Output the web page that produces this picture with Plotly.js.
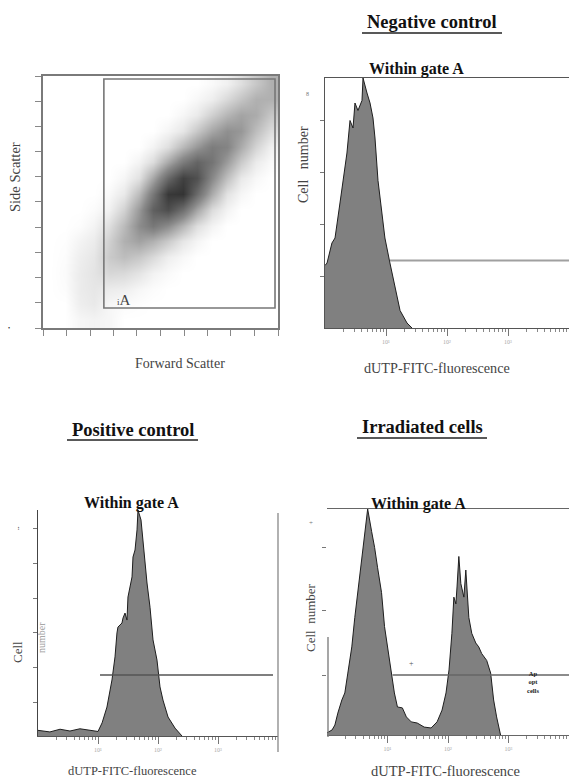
<!DOCTYPE html>
<html>
<head>
<meta charset="utf-8">
<script src="https://cdn.plot.ly/plotly-3.0.1.min.js"></script>
<style>
html,body{margin:0;padding:0;background:#fff;}
#chart{width:569px;height:780px;}
</style>
</head>
<body>
<div id="chart"></div>
<script>
// ---------- Panel 1: Forward vs Side scatter (density read from the dot cloud) ----------
const scatterBinCentersX = [32,96,160,224,288,352,416,480,544,608,672,736,800,864,928,992];
const scatterBinCentersY = [32,96,160,224,288,352,416,480,544,608,672,736,800,864,928,992];
// rows = Side Scatter bins (bottom to top), columns = Forward Scatter bins
const scatterDensity = [
  [0,0,0.3,0.4,0.3,0,0,0,0,0,0,0,0,0,0,0],
  [0,0,0.6,0.8,0.3,0.15,0.07,0,0,0,0,0,0,0,0,0],
  [0,0.1,0.7,0.9,0.7,0.6,0.3,0.12,0,0,0,0,0,0,0,0],
  [0,0.15,0.7,1.0,1.5,1.4,1.0,0.45,0.18,0,0,0,0,0,0,0],
  [0,0.1,0.6,0.9,2.0,2.5,2.1,1.4,0.6,0.25,0,0,0,0,0,0],
  [0,0.05,0.4,0.7,1.75,3.0,3.6,3.0,2.0,0.9,0.35,0,0,0,0,0],
  [0,0,0.1,0.4,1.2,2.6,4.4,5.4,4.4,2.8,1.2,0.4,0,0,0,0],
  [0,0,0,0.15,0.5,1.7,3.9,6.6,7.5,5.8,3.4,1.3,0.4,0,0,0],
  [0,0,0,0,0.2,0.8,2.6,5.4,8.6,8.8,6.0,3.2,1.05,0.3,0,0],
  [0,0,0,0,0,0.3,1.1,3.4,6.2,8.2,7.4,4.6,2.4,0.8,0.25,0],
  [0,0,0,0,0,0,0.4,1.3,3.3,5.2,6.4,5.6,3.8,2.0,0.7,0.2],
  [0,0,0,0,0,0,0,0.4,1.2,2.7,4.0,5.2,4.8,3.2,1.6,0.5],
  [0,0,0,0,0,0,0,0,0.35,0.9,2.1,3.4,4.3,4.0,2.5,1.3],
  [0,0,0,0,0,0,0,0,0,0.3,0.75,1.8,2.8,3.5,3.2,2.1],
  [0,0,0,0,0,0,0,0,0,0,0.25,0.6,1.4,2.2,3.0,3.0],
  [0,0,0,0,0,0,0,0,0,0,0,0.2,0.5,1.2,2.1,3.0]
];
const scatterTicks = [0,102,205,307,409,512,614,716,818,921,1023];
const gateA = [265, 1010, 81, 1011]; // x0, x1, y0, y1

// ---------- Panel 2: Negative control ----------
const negFluor = [1.0,1.08,1.30,1.46,1.76,1.97,2.29,2.57,2.88,3.10,3.47,4.04,4.20,4.88,5.47,6.12,6.6,7.39,8.6,9.6,11.6,14.1,17.0,22.1,26.7];
const negCount = [25,26,34,36,50,58,70,83,80,90,87,91,100,94,90,84,76,59,47,36,26,16,7,2,0];
const negMarkerX = [11.6, 10000];
const negMarkerY = [27, 27];

// ---------- Panel 3: Positive control ----------
const posFluor = [1.0,1.58,2.33,3.41,5.0,7.4,10,11.7,14.1,17.1,19.2,20.7,21.5,25.1,26.1,28.2,30.4,31.6,36.9,38.3,41.4,44.7,46.4,52.1,56.2,65.6,73.6,82.6,96.2,108,121,147,192,251];
const posCount = [2.5,1.8,3,2.2,3.2,2.5,2,5.8,12.8,24.8,35,45.6,48.2,50,52.2,54.4,51.3,61.5,70.4,79.2,82.3,91.2,100,95.6,85.4,67.7,57,42.5,33.6,21.7,15.9,8.4,3.5,0];
const posMarkerX = [10.8, 8260];
const posMarkerY = [27, 27];

// ---------- Panel 4: Irradiated cells ----------
const irrFluor = [1.0,1.21,1.35,1.51,1.76,1.97,2.21,2.57,2.88,3.22,3.61,3.89,4.2,4.7,5.47,6.12,6.86,7.97,8.93,10,11.6,13.0,14.6,17.6,20.5,24.7,31,40.4,52.6,66,79.7,92.7,104,116,125,135,141,151,163,183,197,221,247,288,322,361,436,507,568,636,739];
const irrCount = [1,2.2,4.4,9.7,15.5,18.6,27.4,39,52,63,74,82,89,100,90,83,74,63,48,39,27,18.6,12.4,12,8,5.8,5.3,3.5,3.1,5.8,11,18.6,28.8,45,61,58,65.5,79,67,61,73,52,45,40.7,39,36,33,27.4,15.5,8,0];
const irrMarkerX = [12.1, 10000];
const irrMarkerY = [26.5, 26.5];

const decadeTicks = [10, 100, 1000];
const decadeLabels = ['10¹', '10²', '10³'];
const minorLogTicks = [2,3,4,5,6,7,8,9,20,30,40,50,60,70,80,90,200,300,400,500,600,700,800,900,2000,3000,4000,5000,6000,7000,8000,9000];

// ---------- helpers (pixel -> paper) ----------
const W = 569, H = 780;
const PX = x => x / W;
const PY = y => 1 - y / H;
const SERIF = 'Liberation Serif, Times New Roman, serif';
const SP = '\u00A0';

const histFill = '#808080';
const histLine = '#1e1e1e';

const traces = [
  {type:'heatmap', x:scatterBinCentersX, y:scatterBinCentersY, z:scatterDensity,
   xaxis:'x', yaxis:'y', zmin:0, zmax:9, zsmooth:'best', showscale:false, hoverinfo:'skip',
   colorscale:[[0,'#ffffff'],[0.05,'#f2f2f2'],[0.2,'#cfcfcf'],[0.5,'#8a8a8a'],[1,'#303030']]},
  {type:'scatter', mode:'lines', x:negFluor, y:negCount, xaxis:'x2', yaxis:'y2',
   fill:'tozeroy', fillcolor:histFill, line:{color:histLine, width:1}, hoverinfo:'skip'},
  {type:'scatter', mode:'lines', x:negMarkerX, y:negMarkerY, xaxis:'x2', yaxis:'y2',
   line:{color:'#a0a0a0', width:2}, hoverinfo:'skip'},
  {type:'scatter', mode:'lines', x:posFluor, y:posCount, xaxis:'x3', yaxis:'y3',
   fill:'tozeroy', fillcolor:histFill, line:{color:histLine, width:1}, hoverinfo:'skip'},
  {type:'scatter', mode:'lines', x:posMarkerX, y:posMarkerY, xaxis:'x3', yaxis:'y3',
   line:{color:'#555555', width:1.5}, hoverinfo:'skip'},
  {type:'scatter', mode:'lines', x:irrFluor, y:irrCount, xaxis:'x4', yaxis:'y4',
   fill:'tozeroy', fillcolor:histFill, line:{color:histLine, width:1}, hoverinfo:'skip'},
  {type:'scatter', mode:'lines', x:irrMarkerX, y:irrMarkerY, xaxis:'x4', yaxis:'y4',
   line:{color:'#666666', width:1.5}, hoverinfo:'skip'}
];

function logX(dom, mirror){
  return {type:'log', domain:dom, range:[0,4], showgrid:false, zeroline:false,
    showline:true, linecolor:'#555', linewidth:1.3, mirror:mirror,
    ticks:'outside', ticklen:7, tickcolor:'#777', tickwidth:1,
    tickvals:decadeTicks, ticktext:decadeLabels,
    tickfont:{family:SERIF, size:6, color:'#aaa'},
    minor:{tickvals:minorLogTicks, ticks:'outside', ticklen:3, tickcolor:'#888'}};
}

const layout = {
  width:W, height:H, margin:{l:0,r:0,t:0,b:0}, showlegend:false,
  paper_bgcolor:'#fff', plot_bgcolor:'rgba(0,0,0,0)',
  xaxis:{domain:[PX(43),PX(278)], range:[0,1023], anchor:'y', showgrid:false, zeroline:false,
    showline:true, linecolor:'#7a7a7a', linewidth:2, mirror:true,
    ticks:'outside', ticklen:6, tickcolor:'#888', tickvals:scatterTicks, showticklabels:false},
  yaxis:{domain:[PY(328),PY(76)], range:[0,1023], anchor:'x', showgrid:false, zeroline:false,
    showline:true, linecolor:'#7a7a7a', linewidth:2, mirror:true,
    ticks:'outside', ticklen:6, tickcolor:'#888', tickvals:scatterTicks, showticklabels:false},
  xaxis2:Object.assign(logX([PX(325),1], true), {anchor:'y2'}),
  yaxis2:{domain:[PY(328),PY(78)], range:[0,100], anchor:'x2', showgrid:false, zeroline:false,
    showline:true, linecolor:'#555', linewidth:1.3, ticks:'outside', ticklen:4, tickcolor:'#777',
    tickvals:[20.8,41.6,62.4,83.2], showticklabels:false},
  xaxis3:Object.assign(logX([PX(38),PX(278)], false), {anchor:'y3'}),
  yaxis3:{domain:[PY(736),PY(510)], range:[0,100], anchor:'x3', showgrid:false, zeroline:false,
    showline:true, linecolor:'#444', linewidth:1.3, ticks:'outside', ticklen:4, tickcolor:'#777',
    tickvals:[15,30.5,46,61,76.5,92], showticklabels:false},
  xaxis4:Object.assign(logX([PX(327),1], true), {anchor:'y4', linecolor:'#666'}),
  yaxis4:{domain:[PY(735),PY(509)], range:[0,100], anchor:'x4', showgrid:false, zeroline:false,
    showline:false, ticks:'outside', ticklen:4, tickcolor:'#777',
    tickvals:[26.5,55,83], showticklabels:false},
  shapes:[
    {type:'rect', xref:'x', yref:'y', x0:gateA[0], x1:gateA[1], y0:gateA[2], y1:gateA[3],
     line:{color:'#777', width:1.6}, fillcolor:'rgba(0,0,0,0)'},
    {type:'line', xref:'paper', yref:'paper', x0:PX(362), x1:PX(502), y0:PY(33), y1:PY(33), line:{color:'#222', width:1.6}},
    {type:'line', xref:'paper', yref:'paper', x0:PX(67), x1:PX(198), y0:PY(440), y1:PY(440), line:{color:'#222', width:1.6}},
    {type:'line', xref:'paper', yref:'paper', x0:PX(357), x1:PX(487), y0:PY(438), y1:PY(438), line:{color:'#222', width:1.6}},
    {type:'line', xref:'paper', yref:'paper', x0:PX(278), x1:PX(278), y0:PY(752), y1:PY(513), line:{color:'#888', width:1.3}},
    {type:'line', xref:'paper', yref:'paper', x0:PX(328), x1:PX(328), y0:PY(737), y1:PY(637), line:{color:'#777', width:1.3}}
  ],
  annotations:[]
};

function ann(text, x, y, opts){
  return Object.assign({text:text, xref:'paper', yref:'paper', x:PX(x), y:PY(y),
    xanchor:'center', yanchor:'middle', showarrow:false,
    font:{family:SERIF, size:11, color:'#333'}}, opts||{});
}
const titleFont = {family:SERIF, size:18.5, color:'#111'};
const gateFont = {family:SERIF, size:16, color:'#111'};
const labelFont = s => ({family:SERIF, size:s, color:'#444'});
layout.annotations.push(
  ann('<b>Negative control</b>', 432, 22, {font:titleFont}),
  ann('<b>Within gate A</b>', 416, 69, {font:gateFont}),
  ann('<b>Positive control</b>', 133, 430, {font:titleFont}),
  ann('<b>Within gate A</b>', 131, 503, {font:gateFont}),
  ann('<b>Irradiated cells</b>', 422, 427, {font:titleFont}),
  ann('<b>Within gate A</b>', 418, 504, {font:gateFont}),
  ann('Side Scatter', 15, 177, {textangle:-90, font:labelFont(14.5)}),
  ann('Forward Scatter', 180, 363, {font:labelFont(14)}),
  ann('Cell'+SP+SP+SP+'number', 303, 165, {textangle:-90, font:labelFont(14)}),
  ann('dUTP-FITC-fluorescence', 437, 368, {font:labelFont(14.2)}),
  ann('Cell', 17, 652, {textangle:-90, font:labelFont(13)}),
  ann('number', 41, 637, {textangle:-90, font:{family:SERIF, size:10, color:'#999'}}),
  ann('dUTP-FITC-fluorescence', 132, 771, {font:labelFont(12.5)}),
  ann('Cell'+SP+SP+'number', 310, 618, {textangle:-90, font:labelFont(13)}),
  ann('dUTP-FITC-fluorescence', 445, 771, {font:labelFont(14.5)}),
  ann('<span style="font-size:9px">i</span>A', 124, 300, {font:{family:SERIF, size:15, color:'#444'}}),
  ann('<b>Ap<br>opt<br>cells</b>', 533, 682, {font:{family:SERIF, size:6.5, color:'#222'}}),
  ann('+', 411, 663, {font:{family:SERIF, size:8, color:'#555'}}),
  ann('•', 9, 328, {font:{family:SERIF, size:6, color:'#222'}}),
  ann('8', 307, 94, {font:{family:SERIF, size:6, color:'#777'}}),
  ann('+', 311, 523, {font:{family:SERIF, size:7, color:'#777'}}),
  ann('••', 18, 528, {textangle:-90, font:{family:SERIF, size:5, color:'#555'}})
);

Plotly.newPlot('chart', traces, layout, {staticPlot:true, displayModeBar:false});
</script>
</body>
</html>
